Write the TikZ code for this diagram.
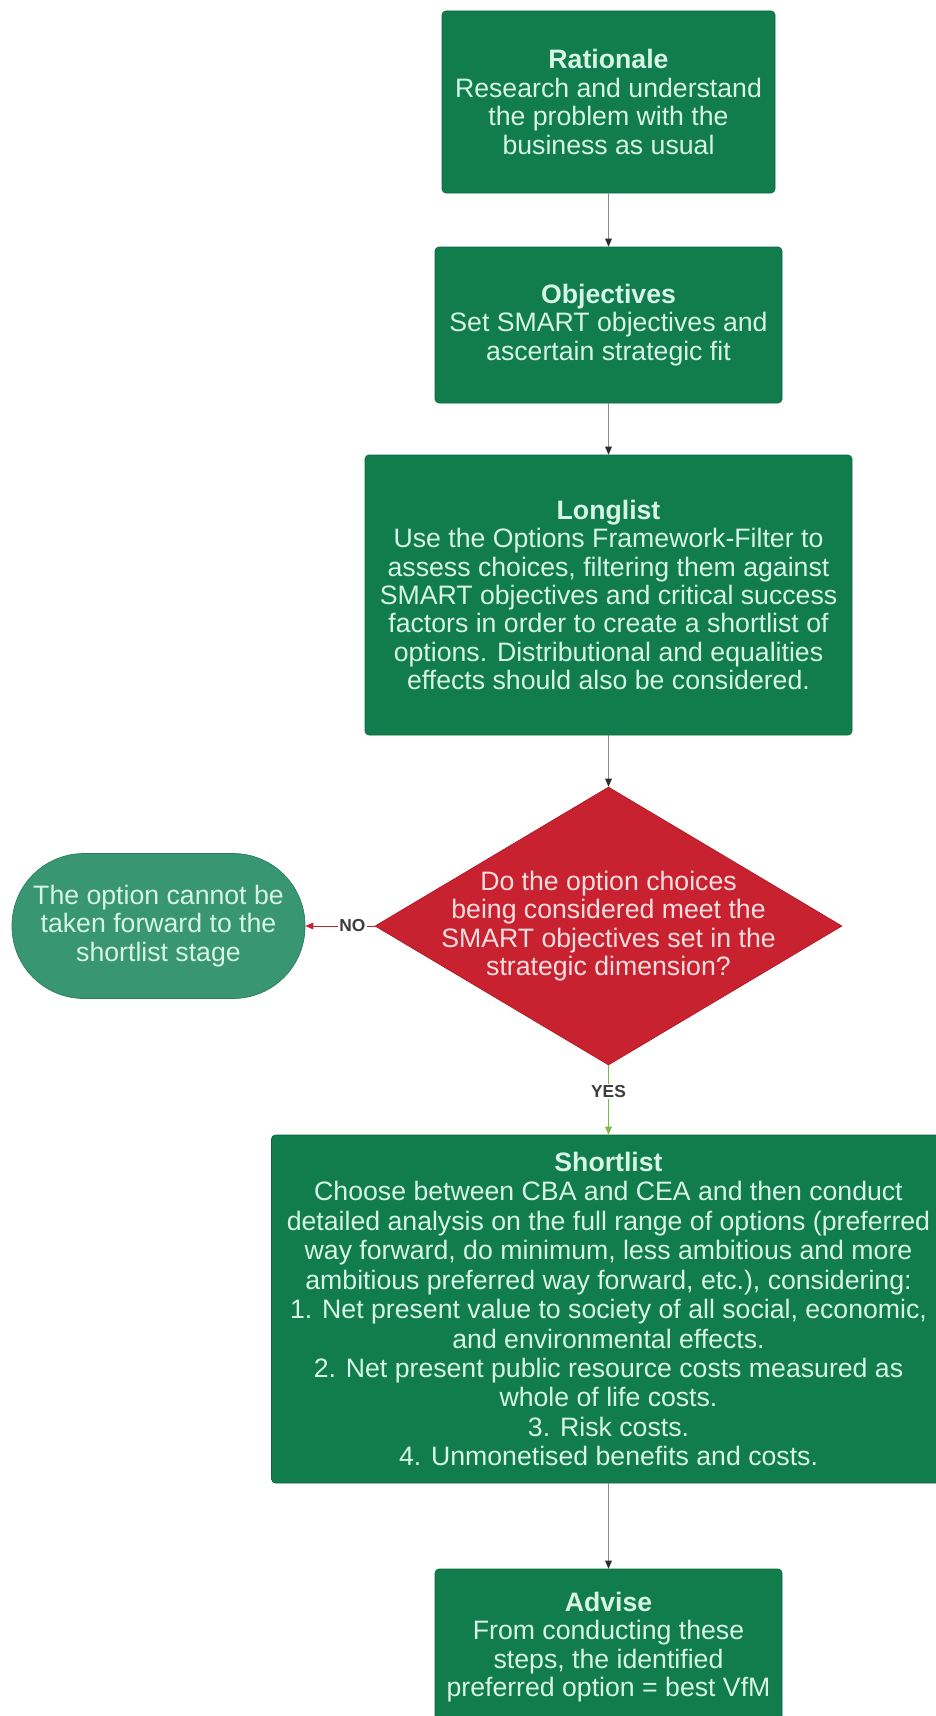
\documentclass[tikz,border=0pt]{standalone}
\usepackage{fontspec}
\setmainfont{Liberation Sans}
\usepackage{tikz}
\usetikzlibrary{shapes.geometric,arrows.meta}

\begin{document}
\begin{tikzpicture}[x=0.75pt,y=0.75pt,yscale=-1,xscale=1,
  stepbox/.style={draw={rgb, 255:red, 10; green, 102; blue, 62 }, fill={rgb, 255:red, 17; green, 124; blue, 76 }, line width=0.5pt, rounded corners=3pt, inner sep=0pt, align=center, text={rgb, 255:red, 214; green, 245; blue, 228 }, font=\fontsize{20}{21.3}\selectfont},
  stopbox/.style={stepbox, fill={rgb, 255:red, 56; green, 150; blue, 115 }, draw={rgb, 255:red, 40; green, 125; blue, 95 }, rounded corners=54pt},
  decide/.style={diamond, draw={rgb, 255:red, 175; green, 25; blue, 38 }, fill={rgb, 255:red, 200; green, 33; blue, 47 }, line width=0.5pt, inner sep=0pt},
  decidetext/.style={inner sep=0pt, align=center, text={rgb, 255:red, 250; green, 222; blue, 224 }, font=\fontsize{20}{21.3}\selectfont},
  flow/.style={draw={rgb, 255:red, 140; green, 140; blue, 140 }, line width=0.75pt, -{Triangle[length=6pt,width=5pt,color={rgb, 255:red, 45; green, 45; blue, 45 }]}},
  noflow/.style={flow, draw={rgb, 255:red, 200; green, 33; blue, 47 }, -{Triangle[length=6pt,width=5pt,color={rgb, 255:red, 200; green, 33; blue, 47 }]}},
  yesflow/.style={flow, draw={rgb, 255:red, 122; green, 186; blue, 72 }, -{Triangle[length=6pt,width=5pt,color={rgb, 255:red, 122; green, 186; blue, 72 }]}},
  answer/.style={fill=white, inner sep=1pt, text={rgb, 255:red, 60; green, 60; blue, 60 }, font=\bfseries\fontsize{13}{13}\selectfont}
]
  %set diagram to the full page, 935 x 1716
  \fill [white] (0,0) rectangle (935,1716);
  \useasboundingbox (0,0) rectangle (935,1716);

  %Shape: Rectangle [id:rationale]
  \draw (608.5,102) node [stepbox, minimum width=249.75pt, minimum height=136.5pt] (rat) {{\bfseries Rationale}\\Research and understand\\the problem with the\\business as usual};
  %Shape: Rectangle [id:objectives]
  \draw (608.5,325) node [stepbox, minimum width=260.25pt, minimum height=117pt] (obj) {{\bfseries Objectives}\\Set SMART objectives and\\ascertain strategic fit};
  %Shape: Rectangle [id:longlist]
  \draw (608.5,595) node [stepbox, minimum width=365.25pt, minimum height=210pt] (long) {{\bfseries Longlist}\\Use the Options Framework-Filter to\\assess choices, filtering them against\\SMART objectives and critical success\\factors in order to create a shortlist of\\options. Distributional and equalities\\effects should also be considered.};
  %Shape: Diamond [id:decision]
  \draw (608.5,926) node [decide, minimum width=350.25pt, minimum height=208.5pt, label={[decidetext]center:Do the option choices\\being considered meet the\\SMART objectives set in the\\strategic dimension?}] (dec) {};
  %Shape: Rounded Rectangle [id:stop]
  \draw (158.5,926) node [stopbox, minimum width=219.75pt, minimum height=108.75pt] (stop) {The option cannot be\\taken forward to the\\shortlist stage};
  %Shape: Rectangle [id:shortlist]
  \draw (608.5,1309) node [stepbox, minimum width=505.5pt, minimum height=261pt, font=\fontsize{20}{22.1}\selectfont] (short) {{\bfseries Shortlist}\\Choose between CBA and CEA and then conduct\\detailed analysis on the full range of options (preferred\\way forward, do minimum, less ambitious and more\\ambitious preferred way forward, etc.), considering:\\1. Net present value to society of all social, economic,\\and environmental effects.\\2. Net present public resource costs measured as\\whole of life costs.\\3. Risk costs.\\4. Unmonetised benefits and costs.};
  %Shape: Rectangle [id:advise]
  \draw (608.5,1647) node [stepbox, minimum width=260.25pt, minimum height=117pt] (adv) {{\bfseries Advise}\\From conducting these\\steps, the identified\\preferred option = best VfM};

  %Straight Lines
  \draw [flow] (rat) -- (obj);
  \draw [flow] (obj) -- (long);
  \draw [flow] (long) -- (dec);
  \draw [noflow] (dec) -- node [answer, pos=0.32] {NO} (stop);
  \draw [yesflow] (dec) -- node [answer, pos=0.38] {YES} (short);
  \draw [flow] (short) -- (adv);
\end{tikzpicture}
\end{document}
